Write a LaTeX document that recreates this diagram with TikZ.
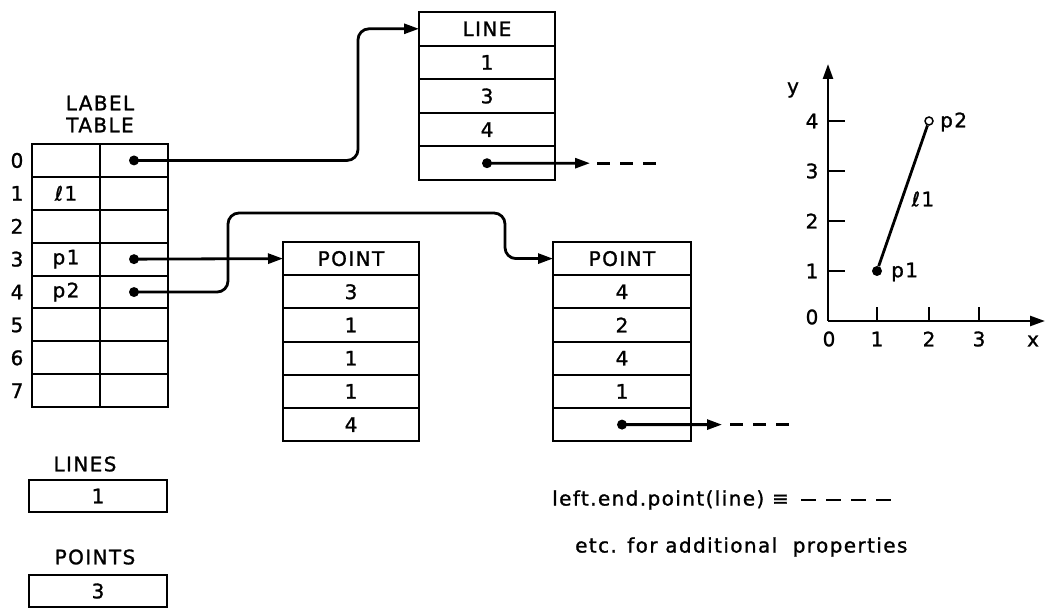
\documentclass[tikz,border=0pt]{standalone}
\usepackage{fontspec}
\setmainfont{DejaVu Sans}[LetterSpace=7, FakeBold=1.2]
\usetikzlibrary{arrows.meta,calc}
\tikzset{
  cell/.style={draw, line width=2pt, inner sep=0pt, outer sep=0pt, font=\fontsize{20}{23}\selectfont},
  txt/.style={inner sep=0pt, font=\fontsize{20}{23}\selectfont},
  dotn/.style={circle, fill, inner sep=0pt, minimum size=10pt},
  conn/.style={line width=2.8pt, rounded corners=11pt, -{Triangle[length=15pt,width=10pt]}},
  dashline/.style={line width=2.8pt, dash pattern=on 13pt off 10pt},
  axisline/.style={line width=2.4pt, -{Triangle[length=15pt,width=10pt]}},
  tick/.style={line width=2pt}
}
\begin{document}
\begin{tikzpicture}[x=1pt,y=-1pt]
\useasboundingbox (0,0) rectangle (1046,609);
% ---- label table ----
\node[txt] (lab1) at (100,103) {LABEL};
\node[txt] (lab2) at (100,125) {TABLE};
\foreach \i/\t in {0/,1/ℓ1,2/,3/p1,4/p2,5/,6/,7/} {
  \node[cell, minimum width=68, minimum height=32.9] (ltl\i) at (66,{144+32.9*(\i+0.5)}) {\t};
  \node[cell, minimum width=68, minimum height=32.9] (ltr\i) at (134,{144+32.9*(\i+0.5)}) {};
  \node[txt] (rn\i) at (17,{144+32.9*(\i+0.5)}) {\i};
}
% ---- LINE block ----
\foreach \i/\t in {0/LINE,1/1,2/3,3/4,4/} {
  \node[cell, minimum width=136, minimum height=33.6] (line\i) at (487,{12+33.6*(\i+0.5)}) {\t};
}
% ---- POINT block 1 ----
\foreach \i/\t in {0/POINT,1/3,2/1,3/1,4/1,5/4} {
  \node[cell, minimum width=136, minimum height=33.2] (pa\i) at (351,{242+33.2*(\i+0.5)}) {\t};
}
% ---- POINT block 2 ----
\foreach \i/\t in {0/POINT,1/4,2/2,3/4,4/1,5/} {
  \node[cell, minimum width=138, minimum height=33.2] (pb\i) at (622,{242+33.2*(\i+0.5)}) {\t};
}
% ---- dots ----
\node[dotn] (d0) at (ltr0) {};
\node[dotn] (d3) at (ltr3) {};
\node[dotn] (d4) at (ltr4) {};
\node[dotn] (dl) at (line4) {};
\node[dotn] (dp) at (pb5) {};
% ---- connectors ----
\coordinate (c0) at (358,100);
\draw[conn] (d0.center) -- (c0 |- d0) -- (c0 |- line0.west) -- (line0.west);
\draw[conn] (d3.center) -- (pa0.west);
\coordinate (c1) at (228,213);
\coordinate (c2) at (505,213);
\draw[conn] (d4.center) -| (c1) -- (c2) |- (pb0.west);
\coordinate (le1) at (590,163.2);
\coordinate (le2) at (597,163.2);
\coordinate (le3) at (666,163.2);
\draw[conn] (dl.center) -- (le1);
\draw[dashline] (le2) -- (le3);
\coordinate (pe1) at (722,424.6);
\coordinate (pe2) at (730,424.6);
\coordinate (pe3) at (792,424.6);
\draw[conn] (dp.center) -- (pe1);
\draw[dashline] (pe2) -- (pe3);
% ---- counters ----
\node[txt] (linesl) at (85,464) {LINES};
\node[cell, minimum width=138, minimum height=32] (linesb) at (98,496) {1};
\node[txt] (pointsl) at (95,557) {POINTS};
\node[cell, minimum width=138, minimum height=32] (pointsb) at (98,591) {3};
% ---- legend text ----
\node[txt, anchor=west] (lep) at (552,500) {left.end.point(line) ≡};
\coordinate (ld1) at (801,500);
\coordinate (ld2) at (891,500);
\draw[line width=2.4pt, dash pattern=on 15pt off 10pt] (ld1) -- (ld2);
\node[txt, anchor=west] (etc) at (575,547) {etc. for additional\ \ properties};
% ---- graph ----
\coordinate (O) at (828,321);
\coordinate (ytop) at (828,64);
\coordinate (xend) at (1045,321);
\draw[axisline] (O) -- (ytop);
\draw[axisline] (O) -- (xend);
\foreach \j in {1,2,3,4} {
  \draw[tick] (828,{321-50*\j}) -- (845,{321-50*\j});
  \node[txt] (yl\j) at (812,{321-50*\j}) {\j};
}
\foreach \i/\xx in {1/877,2/929,3/979} {
  \draw[tick] (\xx,321) -- (\xx,307);
  \node[txt] (xl\i) at (\xx,339) {\i};
}
\node[txt] (o1) at (812,317) {0};
\node[txt] (o2) at (829,339) {0};
\node[txt] (xlab) at (1033,341) {x};
\node[txt] (ylab) at (793,90) {y};
\node[circle, fill, inner sep=0pt, minimum size=10pt] (gp1) at (877,271) {};
\node[circle, draw, line width=1.5pt, fill=white, inner sep=0pt, minimum size=8pt] (gp2) at (929,121) {};
\draw[line width=2.8pt] (gp1) -- (gp2);
\node[txt, anchor=west] (gp2l) at (940,122) {p2};
\node[txt, anchor=west] (gp1l) at (891,272) {p1};
\node[txt] (l1l) at (923,199) {ℓ1};
\end{tikzpicture}
\end{document}
